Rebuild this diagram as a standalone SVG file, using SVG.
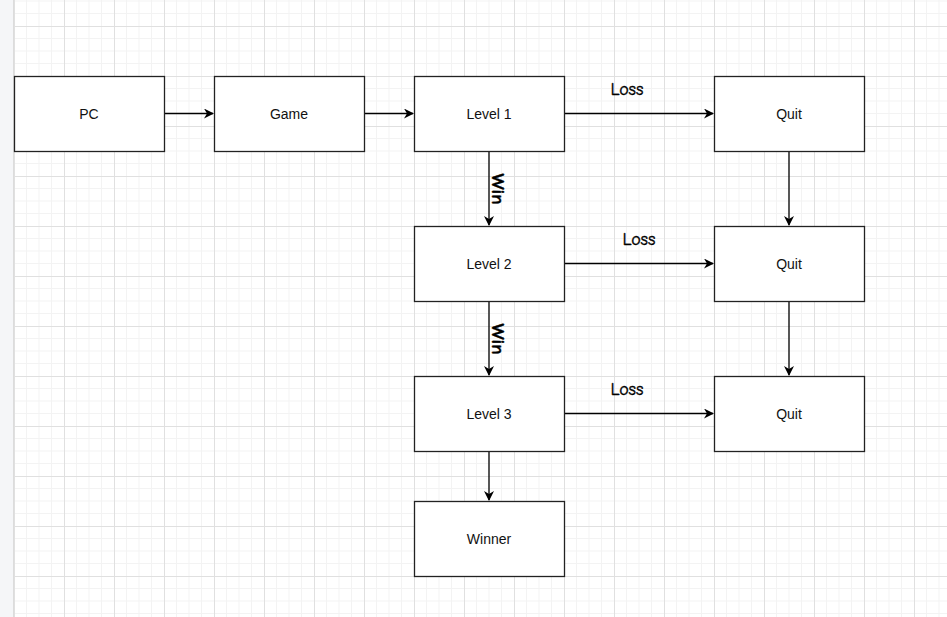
<svg xmlns="http://www.w3.org/2000/svg" width="947" height="617" viewBox="0 0 947 617">
<defs>
<pattern id="grid" x="14" y="26" width="50" height="50" patternUnits="userSpaceOnUse">
<path d="M12.5 0V50M25 0V50M37.5 0V50M0 12.5H50M0 25H50M0 37.5H50" stroke="#f3f3f3" stroke-width="1" fill="none"/>
<path d="M0.5 0V50M0 0.5H50" stroke="#e0e0e0" stroke-width="1" fill="none"/>
</pattern>
<marker id="arr" viewBox="0 0 10 10" refX="9" refY="5" markerWidth="10" markerHeight="10" markerUnits="userSpaceOnUse" orient="auto">
<path d="M0 0L10 5L0 10L3 5Z" fill="#000"/>
</marker>
<style>
.box{fill:#fff;stroke:#222;stroke-width:1.3}
.lbl{font-family:"Liberation Sans",Arial,sans-serif;font-size:14px;fill:#111;text-anchor:middle;dominant-baseline:central}
.edge{stroke:#000;stroke-width:1.3;fill:none;marker-end:url(#arr)}
.el{font-family:"Comic Sans MS","Comic Neue","DejaVu Sans",sans-serif;font-size:18px;fill:#000;stroke:#000;stroke-width:0.4;text-anchor:middle;dominant-baseline:central}
.win{font-weight:bold;font-size:19px}
</style>
</defs>
<rect width="947" height="617" fill="#fff"/>
<rect x="13" y="0" width="934" height="617" fill="url(#grid)"/>
<rect x="0" y="0" width="13" height="617" fill="#f5f6f8"/>
<line x1="13.5" y1="0" x2="13.5" y2="617" stroke="#dcdcdc"/>
<g id="connectors">
<line class="edge" x1="164" y1="113.5" x2="213" y2="113.5"/>
<line class="edge" x1="364" y1="113.5" x2="413" y2="113.5"/>
<line class="edge" x1="564" y1="113.5" x2="713" y2="113.5"/>
<line class="edge" x1="564" y1="263.5" x2="713" y2="263.5"/>
<line class="edge" x1="564" y1="413.5" x2="713" y2="413.5"/>
<line class="edge" x1="489" y1="151" x2="489" y2="225"/>
<line class="edge" x1="489" y1="301" x2="489" y2="375"/>
<line class="edge" x1="489" y1="451" x2="489" y2="500"/>
<line class="edge" x1="789" y1="151" x2="789" y2="225"/>
<line class="edge" x1="789" y1="301" x2="789" y2="375"/>
<text class="el" x="627" y="89">Loss</text>
<text class="el" x="639" y="239">Loss</text>
<text class="el" x="627" y="389">Loss</text>
<text class="el win" transform="translate(498,189) rotate(90)">Win</text>
<text class="el win" transform="translate(498,339) rotate(90)">Win</text>
</g>
<g id="pc"><rect class="box" x="14.5" y="76.5" width="150" height="75"/><text class="lbl" x="89" y="114">PC</text></g>
<g id="game"><rect class="box" x="214.5" y="76.5" width="150" height="75"/><text class="lbl" x="289" y="114">Game</text></g>
<g id="level1"><rect class="box" x="414.5" y="76.5" width="150" height="75"/><text class="lbl" x="489" y="114">Level 1</text></g>
<g id="quit1"><rect class="box" x="714.5" y="76.5" width="150" height="75"/><text class="lbl" x="789" y="114">Quit</text></g>
<g id="level2"><rect class="box" x="414.5" y="226.5" width="150" height="75"/><text class="lbl" x="489" y="264">Level 2</text></g>
<g id="quit2"><rect class="box" x="714.5" y="226.5" width="150" height="75"/><text class="lbl" x="789" y="264">Quit</text></g>
<g id="level3"><rect class="box" x="414.5" y="376.5" width="150" height="75"/><text class="lbl" x="489" y="414">Level 3</text></g>
<g id="quit3"><rect class="box" x="714.5" y="376.5" width="150" height="75"/><text class="lbl" x="789" y="414">Quit</text></g>
<g id="winner"><rect class="box" x="414.5" y="501.5" width="150" height="75"/><text class="lbl" x="489" y="539">Winner</text></g>
</svg>
